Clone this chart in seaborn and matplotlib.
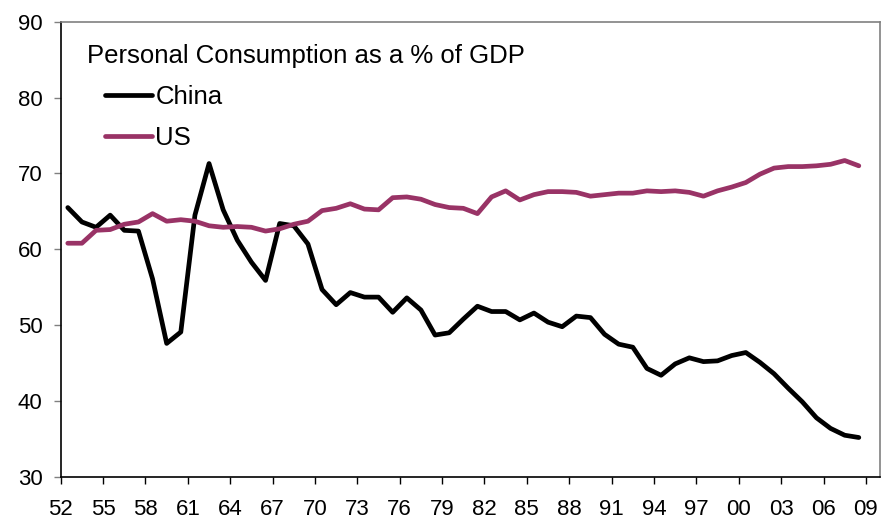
import numpy as np
import pandas as pd
import matplotlib
matplotlib.use("Agg")
import matplotlib.pyplot as plt
import seaborn as sns

# Personal consumption as % of GDP, 1952-2008
years = list(range(1952, 2009))
china = [65.5, 63.6, 62.9, 64.5, 62.5, 62.4, 56.1, 47.6, 49.1, 64.5,
         71.3, 65.2, 61.2, 58.3, 55.9, 63.4, 63.1, 60.7, 54.7, 52.7,
         54.3, 53.7, 53.7, 51.7, 53.6, 52.0, 48.7, 49.0, 50.8, 52.5,
         51.8, 51.8, 50.7, 51.6, 50.4, 49.8, 51.2, 51.0, 48.8, 47.5,
         47.1, 44.3, 43.4, 44.9, 45.7, 45.2, 45.3, 46.0, 46.4, 45.1,
         43.6, 41.7, 39.9, 37.8, 36.4, 35.5, 35.2]
us = [60.8, 60.8, 62.5, 62.6, 63.3, 63.6, 64.7, 63.7, 63.9, 63.7,
      63.1, 62.9, 63.0, 62.9, 62.4, 62.7, 63.3, 63.7, 65.1, 65.4,
      66.0, 65.3, 65.2, 66.8, 66.9, 66.6, 65.9, 65.5, 65.4, 64.7,
      66.9, 67.7, 66.5, 67.2, 67.6, 67.6, 67.5, 67.0, 67.2, 67.4,
      67.4, 67.7, 67.6, 67.7, 67.5, 67.0, 67.7, 68.2, 68.8, 69.9,
      70.7, 70.9, 70.9, 71.0, 71.2, 71.7, 71.0]
tick_years = list(range(1952, 2010, 3))
tick_labels = [f"{y % 100:02d}" for y in tick_years]

df = pd.DataFrame({
    "year": years * 2,
    "value": china + us,
    "country": ["China"] * len(years) + ["US"] * len(years),
})
# category axis: each year sits in the middle of its slot
df["x"] = df["year"] + 0.5

sns.set_style("white")
plt.rcParams["font.family"] = ["Liberation Sans", "DejaVu Sans"]
plt.rcParams["text.color"] = "black"
plt.rcParams["xtick.color"] = "black"
plt.rcParams["ytick.color"] = "black"

fig = plt.figure(figsize=(8.88, 5.21), dpi=100)
ax = fig.add_axes([0.0684, 0.0845, 0.9226, 0.874])

sns.lineplot(data=df, x="x", y="value", hue="country",
             palette={"China": "black", "US": "#993366"},
             linewidth=3.4, ax=ax, legend=False)

ax.set_xlim(1952, 2010)
ax.set_ylim(30, 90)
ax.set_xticks(tick_years)
ax.set_xticklabels(tick_labels)
ax.set_yticks(range(30, 91, 10))
ax.set_xlabel("")
ax.set_ylabel("")

ax.tick_params(axis="x", direction="out", length=5, width=1, color="black",
               labelcolor="black", labelsize=16, pad=10.5)
ax.tick_params(axis="y", direction="out", length=5, width=1, color="#808080",
               labelcolor="black", labelsize=16, pad=8)
ax.tick_params(left=True, bottom=True)

for side in ["left", "bottom"]:
    ax.spines[side].set_color("black")
    ax.spines[side].set_linewidth(1.2)
for side in ["top", "right"]:
    ax.spines[side].set_color("#808080")
    ax.spines[side].set_linewidth(1.2)

ax.text(0.0317, 0.925, "Personal Consumption as a % of GDP",
        transform=ax.transAxes, fontsize=18.5, ha="left", va="center",
        color="black")

handles = [plt.Line2D([], [], color="black", linewidth=3.4),
           plt.Line2D([], [], color="#993366", linewidth=3.4)]
ax.legend(handles, ["China", "US"], loc="upper left",
          bbox_to_anchor=(0.0544, 0.86), frameon=False, fontsize=18.5,
          handlelength=1.8, handletextpad=0.15, labelspacing=0.65,
          borderaxespad=0, borderpad=0, labelcolor="black")

fig.savefig("out.png", dpi=100)
